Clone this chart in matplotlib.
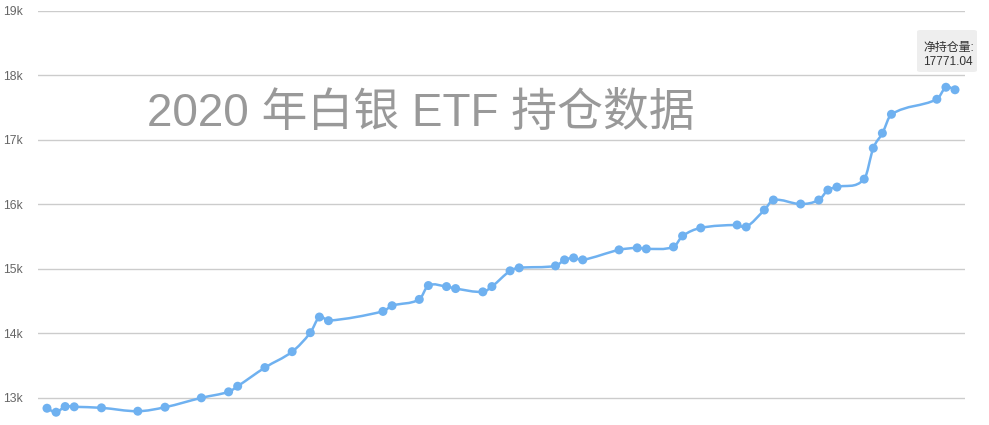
import matplotlib
matplotlib.use('Agg')
import matplotlib.pyplot as plt
import numpy as np
from matplotlib.path import Path
from matplotlib.patches import PathPatch, FancyBboxPatch

plt.rcParams['font.family'] = ['Liberation Sans', 'Noto Sans CJK SC', 'DejaVu Sans']

title_text = "2020 年白银 ETF 持仓数据"
series_name = "净持仓量"
days = [0, 1, 2, 3, 6, 10, 13, 17, 20, 21, 24, 27, 29, 30, 31, 37, 38, 41, 42, 44,
        45, 48, 49, 51, 52, 56, 57, 58, 59, 63, 65, 66, 69, 70, 72, 76, 77, 79, 80, 83,
        85, 86, 87, 90, 91, 92, 93, 98, 99, 100]
holdings = [12834, 12772, 12860, 12856, 12840, 12788, 12850, 12995, 13088, 13175,
            13464, 13711, 14005, 14248, 14191, 14335, 14423, 14521, 14736, 14720,
            14689, 14638, 14720, 14964, 15010, 15041, 15134, 15165, 15134, 15289,
            15320, 15304, 15335, 15505, 15629, 15675, 15644, 15907, 16062, 16000,
            16062, 16216, 16263, 16386, 16866, 17098, 17391, 17624, 17810, 17771.04]
ytick_values = [13000, 14000, 15000, 16000, 17000, 18000, 19000]
ytick_labels = ["13k", "14k", "15k", "16k", "17k", "18k", "19k"]
tooltip_value = "17771.04"

W, H = 989, 425
fig = plt.figure(figsize=(W / 100, H / 100), dpi=100)
left_px, right_px, top_px = 38, 965, 10.5
ax = fig.add_axes([left_px / W, 0, (right_px - left_px) / W, (H - top_px) / H])
ax.set_xlim(-0.99, 101.1)
ax.set_ylim(12574, 19000)

for s in ax.spines.values():
    s.set_visible(False)
ax.set_xticks([])
ax.set_yticks(ytick_values)
ax.set_yticklabels(ytick_labels, color='#666666', fontsize=8.7)
ax.tick_params(axis='y', length=0, pad=11)
ax.grid(axis='y', color='#cccccc', linewidth=1)
ax.set_axisbelow(True)

color = '#6fb1f0'
# smooth line through the points (bezier)
x = np.array(days, dtype=float)
y = np.array(holdings, dtype=float)
n = len(x)
verts = [(x[0], y[0])]
codes = [Path.MOVETO]
s = 0.35
for i in range(n - 1):
    p0 = np.array([x[max(i - 1, 0)], y[max(i - 1, 0)]])
    p1 = np.array([x[i], y[i]])
    p2 = np.array([x[i + 1], y[i + 1]])
    p3 = np.array([x[min(i + 2, n - 1)], y[min(i + 2, n - 1)]])
    c1 = p1 + (p2 - p0) * s * ((p2[0] - p1[0]) / max(p2[0] - p0[0], 1e-9))
    c2 = p2 - (p3 - p1) * s * ((p2[0] - p1[0]) / max(p3[0] - p1[0], 1e-9))
    verts += [tuple(c1), tuple(c2), tuple(p2)]
    codes += [Path.CURVE4, Path.CURVE4, Path.CURVE4]
ax.add_patch(PathPatch(Path(verts, codes), facecolor='none', edgecolor=color, lw=1.8, zorder=3))
ax.scatter(days, holdings, s=42, color=color, zorder=4, edgecolors='none')

fig.text(147 / W, 1 - 113.5 / H, title_text, fontsize=33, color='#999999', ha='left', va='center')

# tooltip
box = FancyBboxPatch((917 / W, 1 - 72 / H), 60 / W, 42 / H,
                     boxstyle='round,pad=0,rounding_size=0.004', transform=fig.transFigure,
                     facecolor='#eeeeee', edgecolor='none', zorder=5)
fig.patches.append(box)
fig.text(923 / W, 1 - 47.5 / H, series_name + ":", fontsize=8.6, color='#333333', ha='left', va='center', zorder=6)
fig.text(923 / W, 1 - 62 / H, tooltip_value, fontsize=8.6, color='#333333', ha='left', va='center', zorder=6)

fig.savefig('out.png', dpi=100)
